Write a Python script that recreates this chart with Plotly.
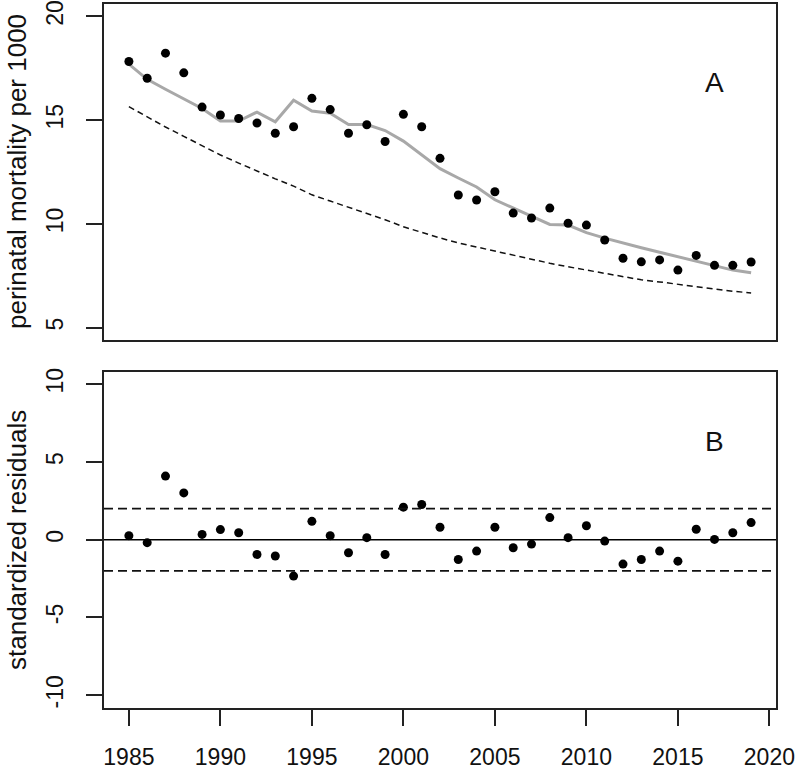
import plotly.graph_objects as go

years = list(range(1985, 2020))
observed = [17.83, 17.02, 18.23, 17.28, 15.63, 15.25, 15.08, 14.86, 14.37, 14.68,
            16.05, 15.51, 14.37, 14.78, 13.97, 15.28, 14.68, 13.16, 11.39, 11.15,
            11.55, 10.52, 10.28, 10.76, 10.03, 9.94, 9.22, 8.34, 8.17, 8.26,
            7.77, 8.48, 8.00, 8.00, 8.16]
fitted = [17.70, 16.97, 16.49, 16.04, 15.56, 14.96, 14.96, 15.39, 14.92, 15.96,
          15.44, 15.33, 14.79, 14.79, 14.50, 13.99, 13.34, 12.66, 12.21, 11.78,
          11.16, 10.76, 10.39, 9.97, 9.94, 9.58, 9.31, 9.07, 8.85, 8.63,
          8.42, 8.21, 7.98, 7.77, 7.64]
baseline = [15.65, 15.15, 14.67, 14.22, 13.78, 13.32, 12.93, 12.54, 12.17, 11.82,
            11.40, 11.10, 10.80, 10.50, 10.20, 9.86, 9.58, 9.32, 9.08, 8.88,
            8.70, 8.50, 8.30, 8.10, 7.93, 7.78, 7.62, 7.45, 7.30, 7.20,
            7.08, 6.97, 6.85, 6.75, 6.67]
residuals = [0.26, -0.19, 4.09, 3.01, 0.34, 0.65, 0.45, -0.95, -1.05, -2.34,
             1.18, 0.26, -0.84, 0.13, -0.95, 2.09, 2.26, 0.80, -1.27, -0.73,
             0.80, -0.52, -0.28, 1.42, 0.13, 0.90, -0.09, -1.57, -1.27, -0.73,
             -1.38, 0.67, 0.02, 0.45, 1.10]
x_ticks = [1985, 1990, 1995, 2000, 2005, 2010, 2015, 2020]
top_ticks = [5, 10, 15, 20]
bottom_ticks = [-10, -5, 0, 5, 10]
bottom_tick_text = ["-10", "-5", "0", "5", "10"]
limits = [-2, 2]

W, H = 800, 772
FONT = "Liberation Sans, Arial, sans-serif"

fig = go.Figure()
fig.add_trace(go.Scatter(x=years, y=fitted, mode="lines",
                         line=dict(color="#a8a8a8", width=3), xaxis="x", yaxis="y"))
fig.add_trace(go.Scatter(x=years, y=baseline, mode="lines",
                         line=dict(color="#111", width=1.5, dash="6px,4px"), xaxis="x", yaxis="y"))
fig.add_trace(go.Scatter(x=years, y=observed, mode="markers",
                         marker=dict(color="black", size=9), xaxis="x", yaxis="y"))
fig.add_trace(go.Scatter(x=years, y=residuals, mode="markers",
                         marker=dict(color="black", size=9), xaxis="x2", yaxis="y2"))

shapes = [dict(type="line", xref="x2 domain", x0=0, x1=1, yref="y2", y0=0, y1=0,
               line=dict(color="black", width=1.5))]
for v in limits:
    shapes.append(dict(type="line", xref="x2 domain", x0=0, x1=1, yref="y2", y0=v, y1=v,
                       line=dict(color="#111", width=1.8, dash="9px,5px")))

xr = [1983.64, 2020.36]
xdom = [104 / W, 776 / W]
ytop = [1 - 340 / H, 1 - 4 / H]
ybot = [1 - 707.7 / H, 1 - 371.7 / H]

frame = dict(showline=True, linecolor="#222", linewidth=2, mirror=True, showgrid=False,
             zeroline=False, automargin=False)
tickstyle = dict(ticks="outside", ticklen=16, tickwidth=1.5, tickcolor="#222",
                 tickfont=dict(family=FONT, size=23, color="#111"))

fig.update_layout(
    width=W, height=H, autosize=False, showlegend=False,
    margin=dict(l=0, r=0, t=0, b=0, pad=0),
    plot_bgcolor="white", paper_bgcolor="white",
    font=dict(family=FONT, color="#111"),
    xaxis=dict(domain=xdom, range=xr, anchor="y", showticklabels=False, ticks="", **frame),
    yaxis=dict(domain=ytop, range=[4.4, 20.6], anchor="x", tickvals=top_ticks,
               tickangle=-90, ticklabelstandoff=14, **frame, **tickstyle),
    xaxis2=dict(domain=xdom, range=xr, anchor="y2", tickvals=x_ticks,
                ticklabelstandoff=12, **frame, **tickstyle),
    yaxis2=dict(domain=ybot, range=[-10.8, 10.8], anchor="x2", tickvals=bottom_ticks,
                ticktext=bottom_tick_text,
                tickangle=-90, ticklabelstandoff=14, **frame, **tickstyle),
    shapes=shapes,
    annotations=[
        dict(text="perinatal mortality per 1000", xref="paper", yref="paper",
             x=17 / W, y=1 - 172 / H, textangle=-90, showarrow=False,
             font=dict(family=FONT, size=26, color="#111"), xanchor="center", yanchor="middle"),
        dict(text="standardized residuals", xref="paper", yref="paper",
             x=17 / W, y=1 - 540 / H, textangle=-90, showarrow=False,
             font=dict(family=FONT, size=26, color="#111"), xanchor="center", yanchor="middle"),
        dict(text="A", xref="x", yref="y", x=2017, y=16.83, showarrow=False,
             font=dict(family=FONT, size=28, color="#111")),
        dict(text="B", xref="x2", yref="y2", x=2017, y=6.3, showarrow=False,
             font=dict(family=FONT, size=28, color="#111")),
    ],
)

fig.write_html("out.html")
